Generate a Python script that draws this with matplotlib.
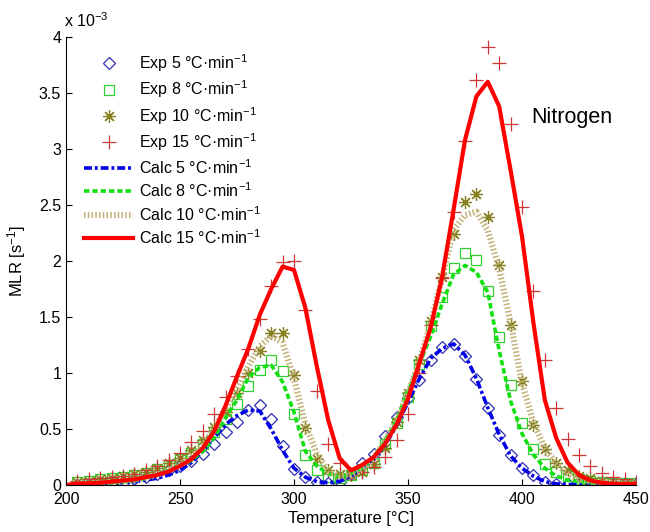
import numpy as np
import matplotlib
matplotlib.use("Agg")
import matplotlib.pyplot as plt

plt.rcParams['font.family'] = ['Liberation Sans', 'DejaVu Sans']
plt.rcParams['mathtext.fontset'] = 'custom'
plt.rcParams['mathtext.rm'] = 'Liberation Sans'
plt.rcParams['mathtext.it'] = 'Liberation Sans:italic'

# ---- data (MLR in units of 1e-3 s^-1) ----
T_exp = list(range(205, 451, 5))
exp5 = [0.0, 0.01, 0.01, 0.02, 0.02, 0.05, 0.07, 0.10, 0.13, 0.17,
        0.21, 0.28, 0.37, 0.47, 0.56, 0.67, 0.71, 0.59, 0.35, 0.14,
        0.07, 0.03, 0.02, 0.03, 0.10, 0.20, 0.28, 0.44, 0.61, 0.78,
        0.94, 1.12, 1.23, 1.26, 1.15, 0.95, 0.69, 0.45, 0.27, 0.15,
        0.09, 0.03, 0.01, 0.01, 0.005, 0.005, 0.005, 0.005, 0.005, 0.005]
exp8 = [0.03, 0.04, 0.05, 0.06, 0.07, 0.09, 0.11, 0.14, 0.18, 0.23,
        0.29, 0.37, 0.47, 0.59, 0.72, 0.88, 1.03, 1.12, 1.02, 0.63,
        0.27, 0.13, 0.07, 0.06, 0.09, 0.13, 0.20, 0.37, 0.55, 0.79,
        1.08, 1.42, 1.68, 1.94, 2.07, 2.01, 1.73, 1.32, 0.89, 0.55,
        0.32, 0.19, 0.12, 0.08, 0.05, 0.04, 0.03, 0.02, 0.02, 0.02]
exp10 = [0.03, 0.04, 0.05, 0.06, 0.08, 0.10, 0.12, 0.15, 0.20, 0.24,
         0.31, 0.40, 0.52, 0.65, 0.82, 1.00, 1.20, 1.36, 1.36, 0.98,
         0.51, 0.23, 0.13, 0.10, 0.09, 0.12, 0.19, 0.33, 0.56, 0.82,
         1.12, 1.46, 1.86, 2.24, 2.53, 2.60, 2.39, 1.96, 1.43, 0.93,
         0.54, 0.32, 0.20, 0.13, 0.08, 0.06, 0.04, 0.03, 0.02, 0.02]
exp15 = [0.04, 0.05, 0.06, 0.07, 0.08, 0.10, 0.13, 0.17, 0.22, 0.29,
         0.38, 0.48, 0.63, 0.79, 0.97, 1.21, 1.48, 1.78, 1.99, 2.00,
         1.56, 0.84, 0.37, 0.20, 0.10, 0.12, 0.16, 0.25, 0.40, 0.63,
         1.00, 1.43, 1.85, 2.44, 3.07, 3.62, 3.91, 3.77, 3.22, 2.48,
         1.73, 1.12, 0.69, 0.41, 0.27, 0.17, 0.11, 0.07, 0.05, 0.03]

T_calc = list(range(200, 451, 5))
calc5 = [0.0, 0.003, 0.005, 0.01, 0.015, 0.02, 0.03, 0.045, 0.06, 0.09,
         0.13, 0.20, 0.30, 0.42, 0.54, 0.62, 0.67, 0.66, 0.50, 0.31,
         0.15, 0.07, 0.03, 0.02, 0.03, 0.08, 0.15, 0.24, 0.36, 0.53,
         0.74, 0.95, 1.13, 1.22, 1.26, 1.16, 0.95, 0.69, 0.45, 0.26,
         0.15, 0.08, 0.03, 0.01, 0.005, 0.003, 0.002, 0.001, 0.001, 0.0, 0.0]
calc8 = [0.0, 0.005, 0.008, 0.012, 0.02, 0.03, 0.04, 0.06, 0.09, 0.13,
         0.17, 0.22, 0.30, 0.42, 0.60, 0.76, 0.96, 1.05, 1.07, 0.92,
         0.65, 0.30, 0.17, 0.10, 0.07, 0.10, 0.15, 0.25, 0.40, 0.58,
         0.84, 1.08, 1.33, 1.62, 1.88, 1.96, 1.90, 1.72, 1.20, 0.75,
         0.46, 0.27, 0.15, 0.08, 0.045, 0.03, 0.02, 0.015, 0.01, 0.01, 0.01]
calc10 = [0.0, 0.005, 0.01, 0.015, 0.02, 0.03, 0.045, 0.065, 0.09, 0.13,
          0.18, 0.25, 0.35, 0.50, 0.68, 0.85, 1.06, 1.24, 1.33, 1.27,
          0.95, 0.54, 0.28, 0.12, 0.08, 0.09, 0.14, 0.24, 0.40, 0.58,
          0.82, 1.10, 1.45, 1.85, 2.28, 2.41, 2.44, 2.27, 1.93, 1.45,
          0.91, 0.56, 0.33, 0.19, 0.10, 0.05, 0.03, 0.02, 0.015, 0.01, 0.01]
calc15 = [0.0, 0.01, 0.015, 0.02, 0.03, 0.04, 0.05, 0.07, 0.09, 0.12,
          0.17, 0.23, 0.33, 0.48, 0.71, 0.97, 1.22, 1.52, 1.75, 1.95,
          1.92, 1.58, 1.06, 0.58, 0.24, 0.13, 0.18, 0.25, 0.37, 0.54,
          0.77, 1.09, 1.41, 1.86, 2.46, 3.08, 3.47, 3.60, 3.38, 2.81,
          2.22, 1.45, 0.76, 0.42, 0.20, 0.09, 0.04, 0.02, 0.01, 0.01, 0.01]

exp_labels = ['Exp 5 °C·min$^{-1}$', 'Exp 8 °C·min$^{-1}$',
              'Exp 10 °C·min$^{-1}$', 'Exp 15 °C·min$^{-1}$']
calc_labels = ['Calc 5 °C·min$^{-1}$', 'Calc 8 °C·min$^{-1}$',
               'Calc 10 °C·min$^{-1}$', 'Calc 15 °C·min$^{-1}$']
x_ticks = [200, 250, 300, 350, 400, 450]
y_ticks = [0, 0.5, 1, 1.5, 2, 2.5, 3, 3.5, 4]

fig = plt.figure(figsize=(6.5, 5.32), dpi=100)
ax = fig.add_axes([66/650, 47/532, 570/650, 448/532])

ax.plot(T_exp, exp5, linestyle='none', marker='D', markersize=6.5, mfc='none',
        mec='#3030B0', mew=0.9, label=exp_labels[0])
ax.plot(T_exp, exp8, linestyle='none', marker='s', markersize=7.5, mfc='none',
        mec='#30D030', mew=0.9, label=exp_labels[1])
ax.plot(T_exp, exp10, linestyle='none', marker=(8, 2, 0), markersize=9, mfc='none',
        mec='#858020', mew=0.9, label=exp_labels[2])
ax.plot(T_exp, exp15, linestyle='none', marker='+', markersize=10,
        mec='#D03838', mew=0.9, label=exp_labels[3])

ax.plot(T_calc, calc5, color='#0000E8', lw=2.6, linestyle=(0, (2.2, 0.8, 0.8, 0.8)),
        label=calc_labels[0])
ax.plot(T_calc, calc8, color='#10E010', lw=2.6, linestyle=(0, (1.5, 0.8)),
        label=calc_labels[1])
ax.plot(T_calc, calc10, color='#C4B27A', lw=4.5, linestyle=(0, (0.25, 0.35)),
        solid_capstyle='butt', dash_capstyle='butt', label=calc_labels[2])
ax.plot(T_calc, calc15, color='#FF0000', lw=3, label=calc_labels[3])

ax.set_xlim(200, 450)
ax.set_ylim(0, 4)
ax.set_xticks(x_ticks)
ax.set_yticks(y_ticks)
ax.set_yticklabels(['%g' % v for v in y_ticks])
ax.tick_params(direction='in', labelsize=11.5, length=4, width=0.8)
ax.tick_params(axis='x', pad=5)
for s in ['top', 'right']:
    ax.spines[s].set_visible(False)

ax.set_xlabel('Temperature [°C]', fontsize=12, labelpad=3)
ax.set_ylabel('MLR [s$^{-1}$]', fontsize=12, labelpad=8)
ax.text(-0.003, 1.015, 'x 10$^{-3}$', transform=ax.transAxes, fontsize=11.5,
        ha='left', va='bottom')
ax.text(404, 3.28, 'Nitrogen', fontsize=15.5, ha='left', va='center')

ax.legend(loc='upper left', bbox_to_anchor=(0.02, 0.981), frameon=False,
          fontsize=11.5, handlelength=3.1, handletextpad=0.35, labelspacing=0.3,
          numpoints=1, borderaxespad=0.0)

fig.savefig('out.png', dpi=100)
